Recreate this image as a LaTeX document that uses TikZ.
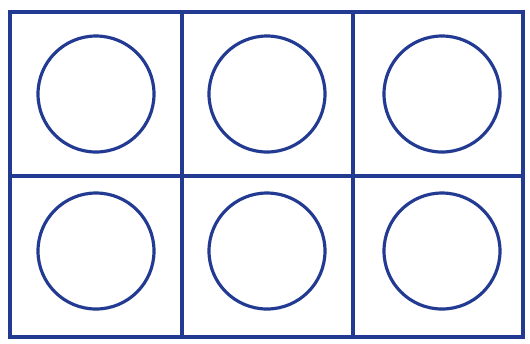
\documentclass[tikz,border=0pt]{standalone}
\usepackage{tikz}

\definecolor{inkblue}{RGB}{34,58,145}

\begin{document}
\begin{tikzpicture}[x=0.02cm, y=-0.02cm, grid/.style={inkblue, line width=1.8pt}, ring/.style={inkblue, line width=1.8pt}]
	\useasboundingbox (0,0) rectangle (530,343);
	\draw[grid] (10,12) rectangle (523,337);
	\draw[grid] (182,12) -- (182,337);
	\draw[grid] (353,12) -- (353,337);
	\draw[grid] (10,176) -- (523,176);
	\foreach \cx in {96,267,442} {
		\draw[ring] (\cx,94) circle (58);
		\draw[ring] (\cx,251) circle (58);
	}
\end{tikzpicture}
\end{document}
